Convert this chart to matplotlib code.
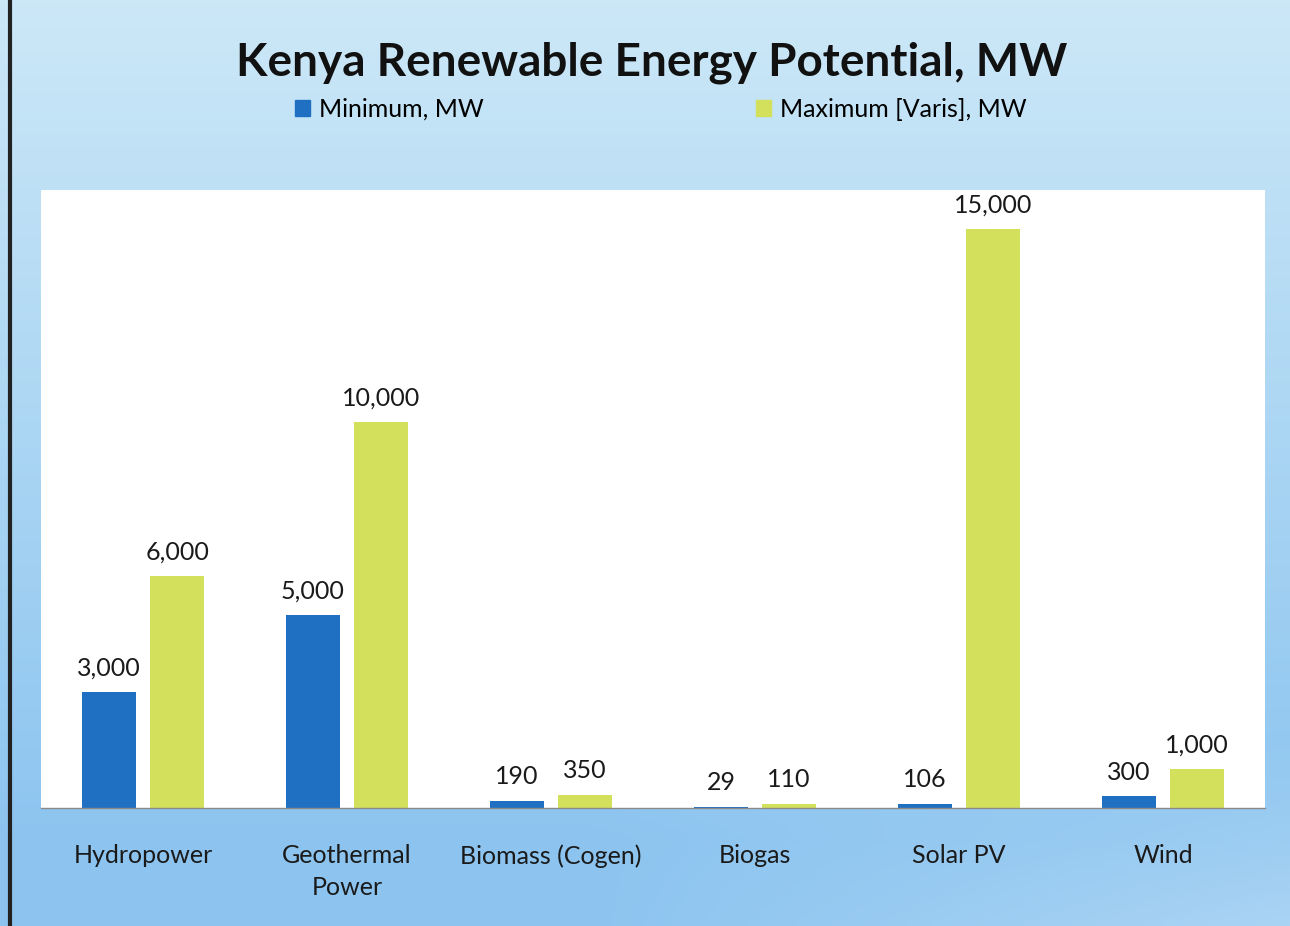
import numpy as np
import matplotlib
matplotlib.use("Agg")
import matplotlib.pyplot as plt
from matplotlib.lines import Line2D
from matplotlib.patches import Patch

categories = ["Hydropower", "Geothermal\nPower", "Biomass (Cogen)", "Biogas", "Solar PV", "Wind"]
minimum_mw = [3000, 5000, 190, 29, 106, 300]
maximum_mw = [6000, 10000, 350, 110, 15000, 1000]
series_names = ["Minimum, MW", "Maximum [Varis], MW"]

blue = "#1f6fc2"
green = "#d3e05c"
plt.rcParams["font.family"] = ["Lato", "DejaVu Sans"]

fig = plt.figure(figsize=(12.9, 9.26), dpi=100)

# slide background gradient
bg = fig.add_axes([0, 0, 1, 1], zorder=-10)
h, w = 200, 300
yy, xx = np.mgrid[0:1:h * 1j, 0:1:w * 1j]
top = np.array([0.80, 0.91, 0.97])
low = np.array([0.55, 0.77, 0.94])
t = np.clip(yy * 1.1, 0, 1)[..., None]
img = top * (1 - t) + low * t
light = np.clip((xx - 0.45) * 1.2, 0, 1)[..., None] * np.clip((yy - 0.8) * 4, 0, 1)[..., None]
img = img * (1 - 0.6 * light) + np.array([0.92, 0.96, 0.99]) * 0.6 * light
bg.imshow(img, aspect="auto", extent=[0, 1, 0, 1], origin="upper")
bg.set_xlim(0, 1)
bg.set_ylim(0, 1)
bg.axis("off")
fig.add_artist(Line2D([0.0075, 0.0075], [0, 1], color="#222222", lw=3))

ax = fig.add_axes([0.0318, 0.1274, 0.9488, 0.6674])
ax.set_facecolor("white")
x = np.arange(len(categories))
bw = 0.265
off = 0.167
b1 = ax.bar(x - off, minimum_mw, bw, color=blue, label=series_names[0])
b2 = ax.bar(x + off, maximum_mw, bw, color=green, label=series_names[1])
for bars, vals in ((b1, minimum_mw), (b2, maximum_mw)):
    for r, v in zip(bars, vals):
        ax.annotate(f"{v:,}", (r.get_x() + r.get_width() / 2, v), xytext=(0, 9),
                    textcoords="offset points", ha="center", va="bottom", fontsize=18,
                    color="#1a1a1a")

ax.set_xlim(-0.5, len(categories) - 0.5)
ax.set_ylim(0, 16000)
ax.set_yticks([])
ax.set_xticks(x)
ax.set_xticklabels(categories, fontsize=18, color="#1a1a1a", linespacing=1.45)
ax.tick_params(axis="x", length=0, pad=26)
for s in ["top", "left", "right"]:
    ax.spines[s].set_visible(False)
ax.spines["bottom"].set_color("#8a8a8a")
ax.spines["bottom"].set_linewidth(1)

fig.text(0.505, 0.932, "Kenya Renewable Energy Potential, MW", ha="center", va="center",
         fontsize=33, fontweight="bold", color="#111111")
handles = [Patch(color=blue), Patch(color=green)]
fig.legend(handles, series_names, loc="center", bbox_to_anchor=(0.512, 0.882), ncol=2,
           frameon=False, fontsize=18, handlelength=0.6, handleheight=0.6,
           handletextpad=0.35, columnspacing=10.9)

fig.savefig("out.png", dpi=100)
